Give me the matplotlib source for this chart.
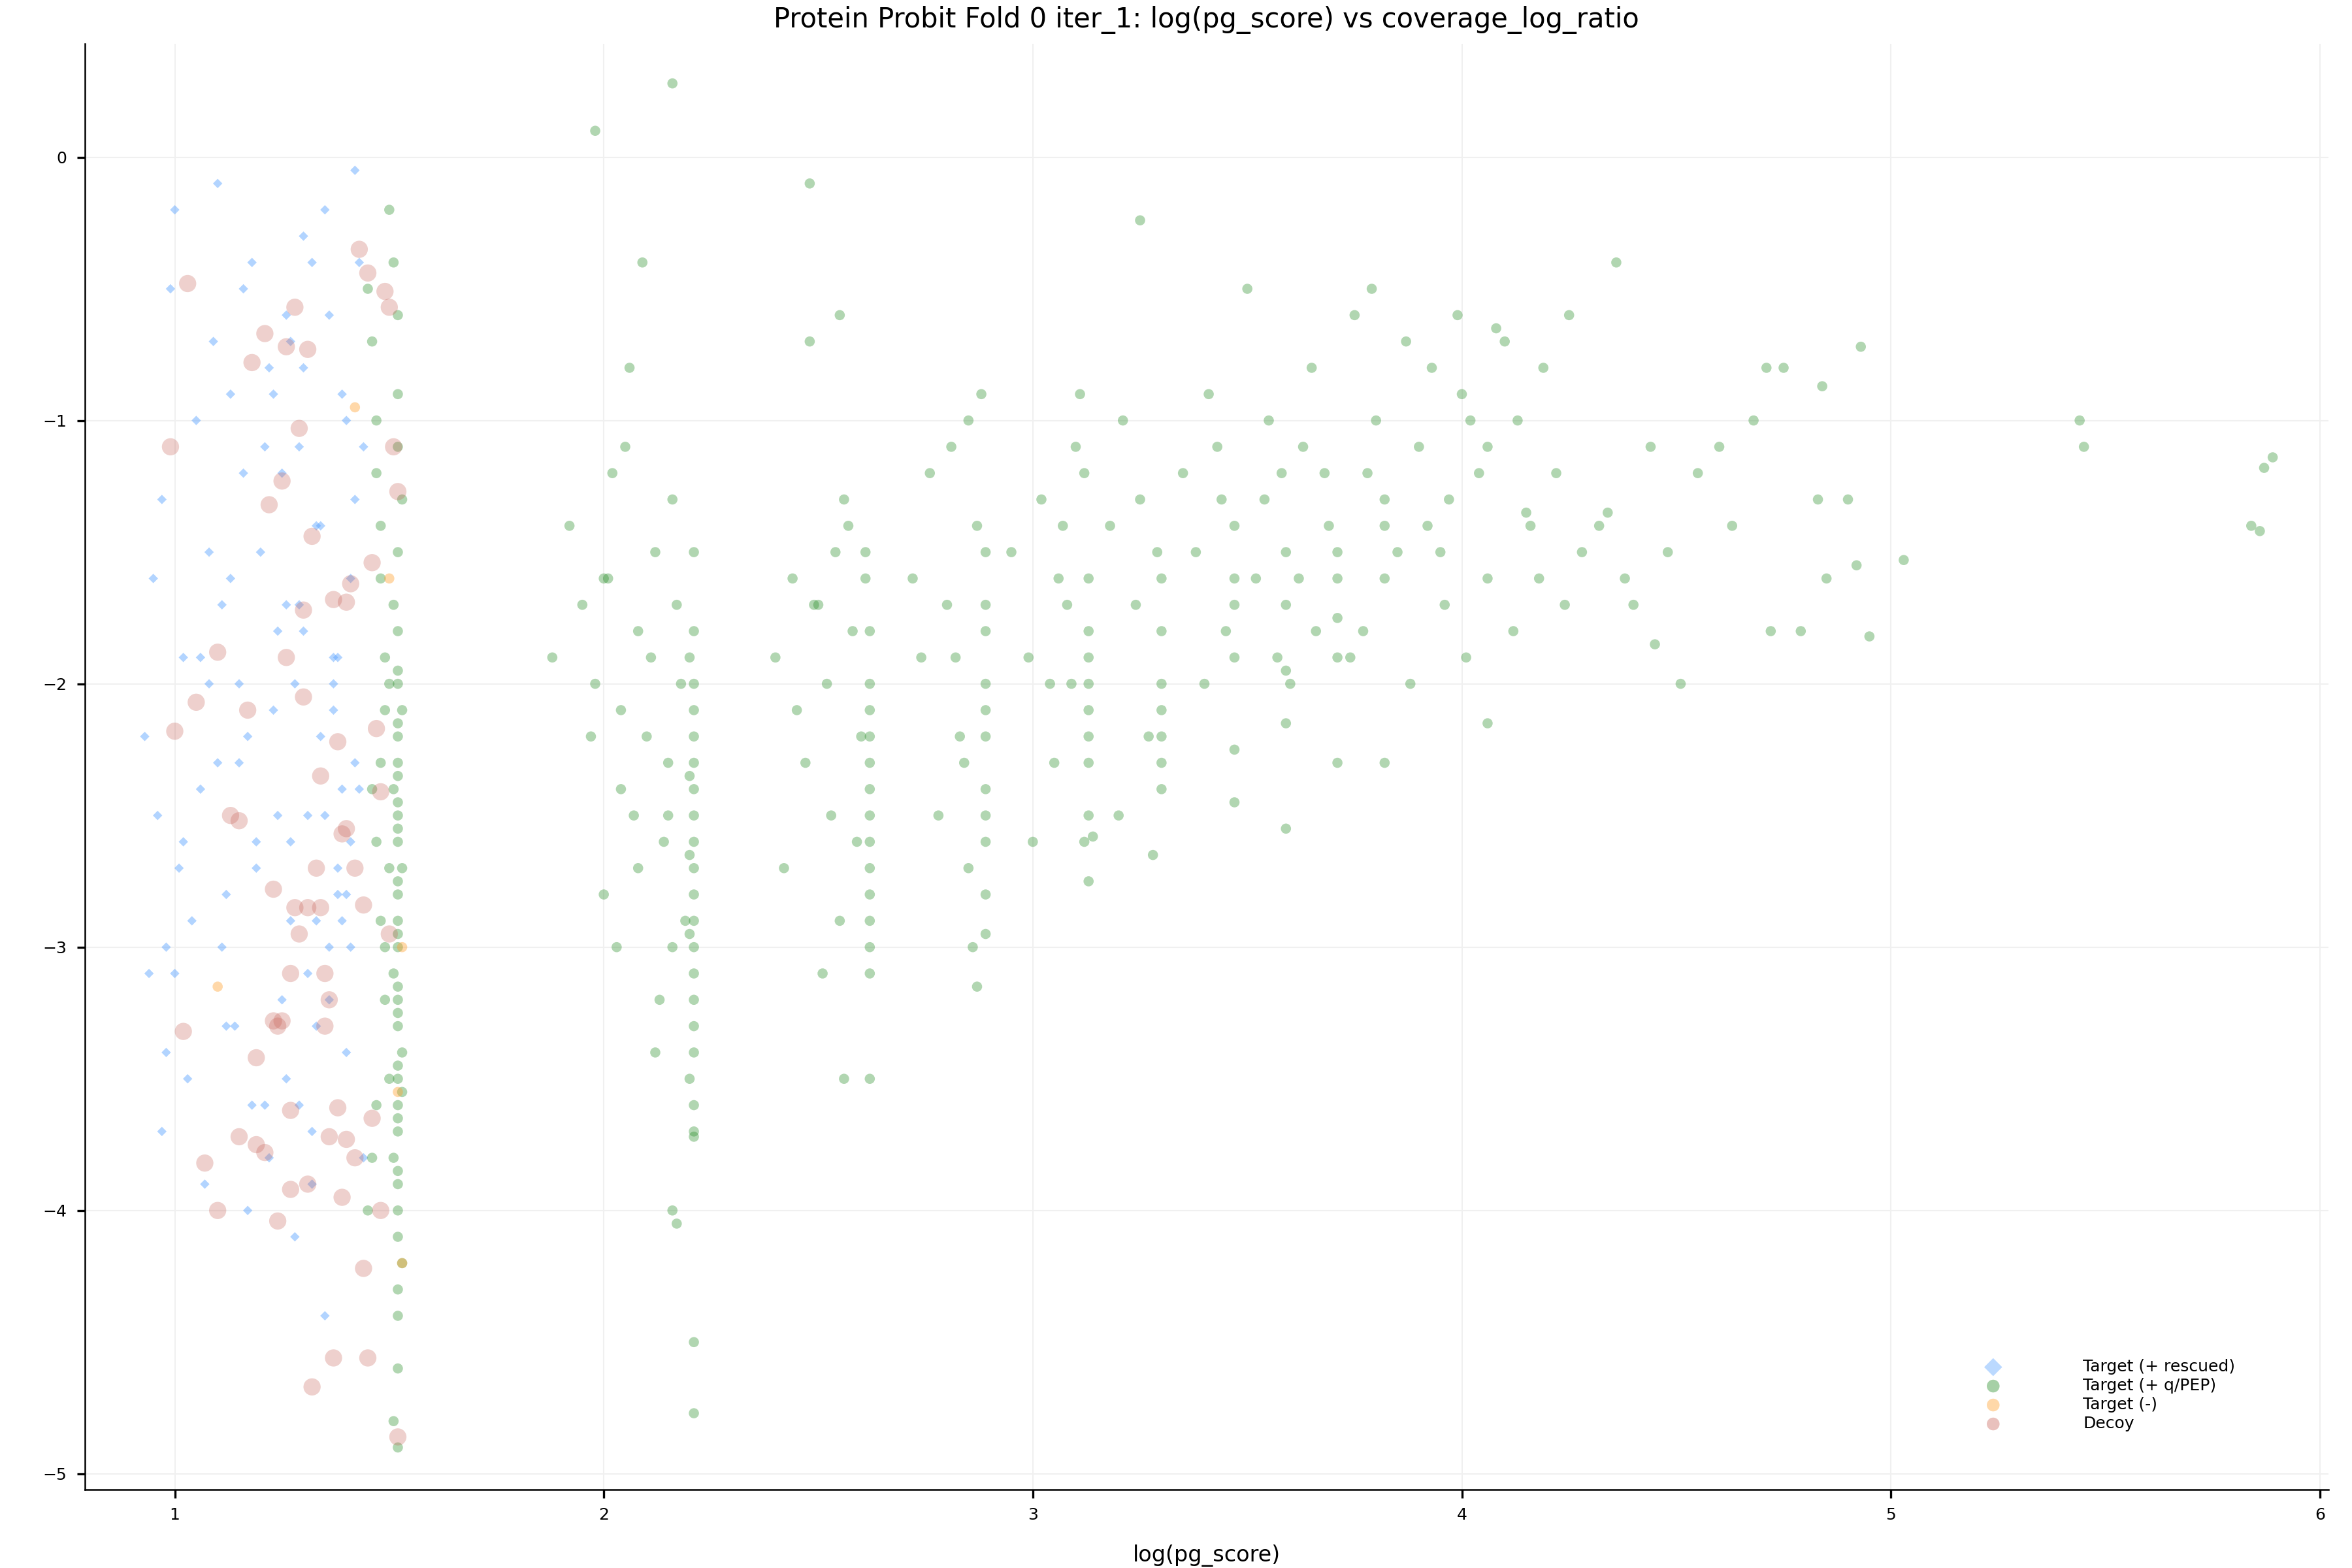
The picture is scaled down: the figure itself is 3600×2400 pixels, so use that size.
import matplotlib.pyplot as plt

# ---------------- DATA ----------------

rescued_x = [0.93, 0.95, 0.96, 0.97, 0.98, 0.99, 1.00, 1.01, 1.02, 1.03, 1.05, 1.06, 1.07, 1.08, 1.09,
             1.10, 1.11, 1.12, 1.13, 1.14, 1.15, 1.16, 1.17, 1.18, 1.19, 1.20, 1.21, 1.22, 1.23, 1.24,
             1.25, 1.26, 1.27, 1.28, 1.29, 1.30, 1.31, 1.32, 1.33, 1.34, 1.35, 1.36, 1.37, 1.38, 1.39,
             1.40, 1.41, 1.42, 1.43, 1.44, 0.94, 0.97, 1.00, 1.04, 1.08, 1.12, 1.15, 1.18, 1.21, 1.24,
             1.27, 1.30, 1.33, 1.36, 1.39, 1.42, 1.26, 1.32, 1.38, 1.41, 1.35, 1.29, 1.23, 1.17, 1.11,
             1.06, 1.02, 0.98, 1.43, 1.40, 1.37, 1.34, 1.31, 1.28, 1.25, 1.22, 1.19, 1.16, 1.13, 1.10,
             1.36, 1.39, 1.42, 1.33, 1.30, 1.27, 1.44, 1.41, 1.38, 1.35, 1.32, 1.29, 1.26, 1.40, 1.37]
rescued_y = [-2.2, -1.6, -2.5, -1.3, -3.0, -0.5, -3.1, -2.7, -1.9, -3.5, -1.0, -2.4, -3.9, -2.0, -0.7,
             -0.1, -1.7, -2.8, -0.9, -3.3, -2.3, -1.2, -4.0, -0.4, -2.6, -1.5, -3.6, -0.8, -2.1, -1.8,
             -3.2, -0.6, -2.9, -4.1, -1.1, -0.3, -2.5, -3.7, -1.4, -2.2, -0.2, -3.0, -1.9, -2.7, -0.9,
             -3.4, -1.6, -0.05, -2.4, -3.8, -3.1, -3.7, -0.2, -2.9, -1.5, -3.3, -2.0, -3.6, -1.1, -2.5,
             -0.7, -1.8, -2.9, -3.2, -2.4, -1.3, -3.5, -3.9, -2.8, -2.6, -4.4, -1.7, -0.9, -2.2, -3.0,
             -1.9, -2.6, -3.4, -0.4, -1.0, -2.1, -1.4, -3.1, -2.0, -1.2, -3.8, -2.7, -0.5, -1.6, -2.3,
             -0.6, -2.9, -2.3, -3.3, -0.8, -2.6, -1.1, -3.0, -1.9, -2.5, -0.4, -3.6, -1.7, -2.8, -2.0]

qpep_x = [1.50, 1.51, 1.52, 1.52, 1.52, 1.53, 1.52, 1.51, 1.52, 1.52, 1.53, 1.52, 1.52, 1.51, 1.52,
          1.52, 1.53, 1.52, 1.52, 1.52, 1.51, 1.52, 1.52, 1.53, 1.52, 1.52, 1.52, 1.51, 1.52, 1.52,
          1.52, 1.53, 1.52, 1.52, 1.52, 1.51, 1.52, 1.52, 1.52, 1.53, 1.46, 1.47, 1.48, 1.49, 1.46,
          1.47, 1.48, 1.49, 1.50, 1.45, 1.47, 1.49, 1.46, 1.48, 1.50, 1.45, 1.47, 1.49, 1.48, 1.50,
          1.52, 1.52, 1.52, 1.52, 1.52, 1.52, 1.52, 1.52, 1.52, 1.52,
          1.88, 1.92, 1.95, 1.98, 2.00, 2.02, 2.04, 2.06, 2.08, 2.10, 2.12, 2.14, 2.16, 2.18, 2.19,
          2.00, 2.03, 2.05, 2.07, 2.09, 2.11, 2.13, 2.15, 2.17, 1.97, 2.01, 2.04, 2.08, 2.12, 2.16,
          2.21, 2.21, 2.21, 2.21, 2.21, 2.21, 2.21, 2.21, 2.21, 2.21, 2.21, 2.21, 2.21, 2.21, 2.21,
          2.21, 2.21, 2.21, 2.21, 2.21, 2.20, 2.20, 2.20, 2.20, 2.20, 2.15, 2.16, 2.17,
          2.40, 2.44, 2.47, 2.50, 2.52, 2.54, 2.56, 2.58, 2.60, 2.45, 2.49, 2.53, 2.57, 2.59, 2.51,
          2.55, 2.48, 2.42, 2.61, 2.62, 2.62, 2.62, 2.62, 2.62, 2.62, 2.62, 2.62, 2.62, 2.62, 2.62,
          2.62, 2.62, 2.61, 2.56, 2.55, 2.62,
          2.72, 2.76, 2.80, 2.83, 2.85, 2.87, 2.78, 2.82, 2.86, 2.74, 2.81, 2.84, 2.89, 2.89, 2.89,
          2.89, 2.89, 2.89, 2.89, 2.89, 2.89, 2.89, 2.89, 2.88, 2.87, 2.85,
          2.95, 2.99, 3.02, 3.05, 3.08, 3.10, 3.00, 3.04, 3.07, 3.13, 3.13, 3.13, 3.13, 3.13, 3.13,
          3.13, 3.13, 3.13, 3.12, 3.12, 3.11, 3.09, 3.06,
          3.18, 3.21, 3.24, 3.27, 3.29, 3.20, 3.25, 3.30, 3.30, 3.30, 3.30, 3.30, 3.30, 3.30, 3.28,
          3.35, 3.38, 3.41, 3.44, 3.47, 3.47, 3.47, 3.47, 3.47, 3.47, 3.40, 3.45, 3.43,
          3.52, 3.55, 3.57, 3.59, 3.59, 3.59, 3.59, 3.59, 3.54, 3.58, 3.50,
          3.63, 3.66, 3.69, 3.71, 3.71, 3.71, 3.71, 3.71, 3.65, 3.68, 3.60, 3.62,
          3.75, 3.78, 3.80, 3.82, 3.82, 3.82, 3.82, 3.77, 3.85, 3.87, 3.74, 3.79,
          3.90, 3.93, 3.95, 3.97, 4.00, 4.02, 4.04, 4.06, 4.06, 4.06, 3.92, 3.99, 4.01, 3.96, 3.88,
          4.10, 4.13, 4.16, 4.19, 4.22, 4.25, 4.28, 4.12, 4.18, 4.24, 4.15, 4.08,
          4.32, 4.36, 4.40, 4.44, 4.48, 4.51, 4.55, 4.34, 4.45, 4.38,
          4.60, 4.63, 4.68, 4.71, 4.75, 4.79, 4.83, 4.85, 4.90, 4.93, 4.95, 4.72, 4.84, 4.92,
          5.03, 5.44, 5.45, 5.84, 5.86, 5.87, 5.89, 2.16, 1.98, 2.48, 3.25, 3.14, 2.21, 2.21]
qpep_y = [-0.2, -0.4, -0.6, -0.9, -1.1, -1.3, -1.5, -1.7, -1.8, -2.0, -2.1, -2.2, -2.3, -2.4, -2.5,
          -2.6, -2.7, -2.8, -2.9, -3.0, -3.1, -3.2, -3.3, -3.4, -3.5, -3.6, -3.7, -3.8, -3.9, -4.0,
          -4.1, -4.2, -4.3, -4.4, -4.6, -4.8, -4.9, -2.45, -3.15, -3.55, -0.7, -1.2, -1.6, -2.1,
          -2.4, -2.6, -2.9, -3.2, -3.5, -0.5, -1.0, -1.9, -3.8, -2.3, -2.7, -4.0, -3.6, -3.0, -1.4,
          -2.0, -2.55, -2.75, -2.95, -3.25, -3.45, -3.65, -3.85, -2.15, -2.35, -1.95,
          -1.9, -1.4, -1.7, -2.0, -1.6, -1.2, -2.4, -0.8, -1.8, -2.2, -1.5, -2.6, -1.3, -2.0, -2.9,
          -2.8, -3.0, -1.1, -2.5, -0.4, -1.9, -3.2, -2.3, -1.7, -2.2, -1.6, -2.1, -2.7, -3.4, -4.0,
          -1.5, -1.8, -2.0, -2.1, -2.2, -2.3, -2.4, -2.5, -2.6, -2.7, -2.8, -2.9, -3.0, -3.1, -3.2,
          -3.3, -3.4, -3.6, -3.7, -4.5, -1.9, -2.35, -2.65, -2.95, -3.5, -2.5, -3.0, -4.05,
          -1.9, -1.6, -2.3, -1.7, -2.0, -1.5, -1.3, -1.8, -2.2, -2.1, -1.7, -2.5, -1.4, -2.6, -3.1,
          -0.6, -0.7, -2.7, -1.6, -2.0, -2.1, -2.2, -2.3, -2.4, -2.5, -2.6, -2.7, -2.8, -2.9, -3.0,
          -3.1, -1.8, -1.5, -3.5, -2.9, -3.5,
          -1.6, -1.2, -1.7, -2.2, -2.7, -1.4, -2.5, -1.9, -3.0, -1.9, -1.1, -2.3, -1.5, -1.8, -2.0,
          -2.2, -2.4, -2.6, -2.8, -2.95, -1.7, -2.1, -2.5, -0.9, -3.15, -1.0,
          -1.5, -1.9, -1.3, -2.3, -1.7, -1.1, -2.6, -2.0, -1.4, -1.6, -1.8, -2.0, -2.1, -2.3, -2.5,
          -1.9, -2.2, -2.75, -1.2, -2.6, -0.9, -2.0, -1.6,
          -1.4, -1.0, -1.7, -2.2, -1.5, -2.5, -1.3, -1.6, -1.8, -2.0, -2.2, -2.3, -2.4, -2.1, -2.65,
          -1.2, -1.5, -0.9, -1.3, -1.4, -1.6, -1.7, -1.9, -2.45, -2.25, -2.0, -1.8, -1.1,
          -1.6, -1.0, -1.9, -1.5, -1.7, -1.95, -2.15, -2.55, -1.3, -1.2, -0.5,
          -1.1, -1.8, -1.4, -1.5, -1.6, -1.75, -1.9, -2.3, -0.8, -1.2, -2.0, -1.6,
          -0.6, -1.2, -1.0, -1.3, -1.4, -1.6, -2.3, -1.8, -1.5, -0.7, -1.9, -0.5,
          -1.1, -0.8, -1.5, -1.3, -0.9, -1.0, -1.2, -1.6, -1.1, -2.15, -1.4, -0.6, -1.9, -1.7, -2.0,
          -0.7, -1.0, -1.4, -0.8, -1.2, -0.6, -1.5, -1.8, -1.6, -1.7, -1.35, -0.65,
          -1.4, -0.4, -1.7, -1.1, -1.5, -2.0, -1.2, -1.35, -1.85, -1.6,
          -1.1, -1.4, -1.0, -0.8, -0.8, -1.8, -1.3, -1.6, -1.3, -0.72, -1.82, -1.80, -0.87, -1.55,
          -1.53, -1.0, -1.1, -1.4, -1.42, -1.18, -1.14, 0.28, 0.1, -0.1, -0.24, -2.58, -3.72, -4.77]

minus_x = [1.10, 1.42, 1.50, 1.53, 1.52, 1.53]
minus_y = [-3.15, -0.95, -1.6, -3.0, -3.55, -4.2]

decoy_x = [1.03, 0.99, 1.00, 1.02, 1.05, 1.07, 1.10, 1.10, 1.13, 1.15, 1.15, 1.17, 1.18, 1.19, 1.21,
           1.22, 1.23, 1.24, 1.25, 1.26, 1.26, 1.27, 1.27, 1.28, 1.29, 1.30, 1.30, 1.31, 1.31, 1.32,
           1.33, 1.34, 1.35, 1.36, 1.37, 1.37, 1.38, 1.39, 1.40, 1.40, 1.41, 1.42, 1.43, 1.44, 1.45,
           1.46, 1.47, 1.48, 1.49, 1.50, 1.51, 1.52, 1.29, 1.34, 1.23, 1.21, 1.38, 1.44, 1.32, 1.25,
           1.27, 1.36, 1.40, 1.46, 1.50, 1.19, 1.28, 1.35, 1.42, 1.48, 1.52, 1.31, 1.24, 1.39, 1.45]
decoy_y = [-0.48, -1.1, -2.18, -3.32, -2.07, -3.82, -1.88, -4.0, -2.5, -2.52, -3.72, -2.1, -0.78, -3.42,
           -0.67, -1.32, -3.28, -4.04, -1.23, -0.72, -1.9, -3.1, -3.92, -0.57, -2.95, -1.72, -2.05,
           -0.73, -3.9, -1.44, -2.7, -2.85, -3.1, -3.72, -1.68, -4.56, -2.22, -2.57, -1.69, -3.73,
           -1.62, -2.7, -0.35, -2.84, -0.44, -1.54, -2.17, -2.41, -0.51, -0.57, -1.1, -4.86, -1.03,
           -2.35, -2.78, -3.78, -3.61, -4.22, -4.67, -3.28, -3.62, -3.2, -2.55, -3.65, -2.95, -3.75,
           -2.85, -3.3, -3.8, -4.0, -1.27, -2.85, -3.3, -3.95, -4.56]

# ---------------- PLOT ----------------

fig, ax = plt.subplots(figsize=(12, 8), dpi=300)

ax.scatter(rescued_x, rescued_y, s=6, marker="D", color="#55a0ff", alpha=0.45,
           edgecolors="none", label="Target (+ rescued)")
ax.scatter(qpep_x, qpep_y, s=14, color="#228b22", alpha=0.35,
           edgecolors="none", label="Target (+ q/PEP)")
ax.scatter(minus_x, minus_y, s=14, color="#ff9f2a", alpha=0.4,
           edgecolors="none", label="Target (-)")
ax.scatter(decoy_x, decoy_y, s=40, color="#c8645a", alpha=0.3,
           edgecolors="none", label="Decoy")

ax.set_xlim(0.79, 6.02)
ax.set_ylim(-5.06, 0.43)
ax.set_xticks([1, 2, 3, 4, 5, 6])
ax.set_yticks([0, -1, -2, -3, -4, -5])
ax.set_yticklabels(["0", "\u22121", "\u22122", "\u22123", "\u22124", "\u22125"])
ax.tick_params(labelsize=6, length=3)
ax.grid(True, color="#f0f0f0", linewidth=0.5)
ax.set_axisbelow(True)
for side in ("top", "right"):
    ax.spines[side].set_visible(False)
ax.spines["left"].set_linewidth(0.6)
ax.spines["bottom"].set_linewidth(0.6)

ax.set_title("Protein Probit Fold 0 iter_1: log(pg_score) vs coverage_log_ratio", fontsize=10)
ax.set_xlabel("log(pg_score)", fontsize=8, labelpad=8)

leg = ax.legend(loc="lower right", bbox_to_anchor=(0.965, 0.03), frameon=False, fontsize=6,
                handletextpad=4.5, labelspacing=0.2)
for h in leg.legend_handles:
    h.set_sizes([22])
    h.set_alpha(0.4)

plt.subplots_adjust(left=0.036, right=0.99, top=0.972, bottom=0.05)
plt.savefig("out.png", dpi=300)
